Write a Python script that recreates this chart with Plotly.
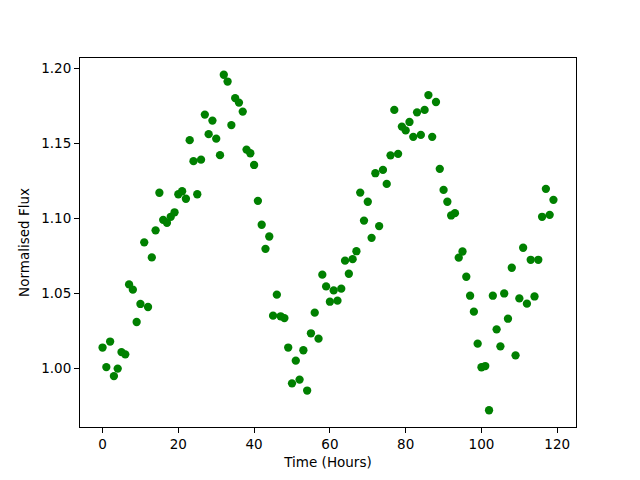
import plotly.graph_objects as go

time_hours = list(range(120))
flux = [
    1.014, 1.001, 1.018, 0.995, 1.000, 1.011, 1.0095, 1.056, 1.0525, 1.031,
    1.043, 1.084, 1.041, 1.074, 1.092, 1.117, 1.099, 1.097, 1.101, 1.104,
    1.116, 1.118, 1.113, 1.152, 1.138, 1.116, 1.139, 1.169, 1.156, 1.165,
    1.153, 1.142, 1.1955, 1.191, 1.162, 1.180, 1.177, 1.171, 1.1457, 1.1433,
    1.1355, 1.1116, 1.0957, 1.0797, 1.0879, 1.0352, 1.0492, 1.0348, 1.0336, 1.014,
    0.9902, 1.0053, 0.9927, 1.0122, 0.9854, 1.0235, 1.0372, 1.0199, 1.0625, 1.0547,
    1.0445, 1.052, 1.0452, 1.0532, 1.0718, 1.0631, 1.0728, 1.0781, 1.1171, 1.0985,
    1.111, 1.087, 1.130, 1.0948, 1.1322, 1.1229, 1.1419, 1.1721, 1.1429, 1.161,
    1.1585, 1.1641, 1.1542, 1.1705, 1.1555, 1.1721, 1.182, 1.1542, 1.1774, 1.1329,
    1.1189, 1.111, 1.1019, 1.1034, 1.0738, 1.0779, 1.0611, 1.0485, 1.0379, 1.0166,
    1.0009, 1.0017, 0.9723, 1.0485, 1.0261, 1.0148, 1.050, 1.0332, 1.0671, 1.0088,
    1.0467, 1.0804, 1.0432, 1.0724, 1.048, 1.0724, 1.101, 1.1196, 1.1023, 1.1123,
]

x_ticks = [0, 20, 40, 60, 80, 100, 120]
y_ticks = [1.00, 1.05, 1.10, 1.15, 1.20]

fig = go.Figure(go.Scatter(
    x=time_hours, y=flux, mode="markers",
    marker=dict(color="#008000", size=8.3, line=dict(width=0)),
    showlegend=False,
))

xspan = max(time_hours) - min(time_hours)
yspan = max(flux) - min(flux)

axis_common = dict(
    showline=True, mirror=True, linecolor="black", linewidth=1.1,
    ticks="outside", ticklen=5, tickwidth=1.1, tickcolor="black",
    showgrid=False, zeroline=False,
    tickfont=dict(family="DejaVu Sans", size=13.5, color="black"),
)

fig.update_xaxes(
    range=[min(time_hours) - 0.05 * xspan, max(time_hours) + 0.05 * xspan],
    tickvals=x_ticks, ticktext=[str(v) for v in x_ticks],
    title=dict(text="Time (Hours)", font=dict(family="DejaVu Sans", size=13.5, color="black"), standoff=6),
    **axis_common,
)
fig.update_yaxes(
    range=[min(flux) - 0.05 * yspan, max(flux) + 0.05 * yspan],
    tickvals=y_ticks, ticktext=[f"{v:.2f}" for v in y_ticks],
    title=dict(text="Normalised Flux", font=dict(family="DejaVu Sans", size=13.5, color="black"), standoff=8),
    **axis_common,
)

# The page body adds an 8px offset, so the figure is drawn 8px smaller
fig.update_layout(
    width=632, height=472,
    margin=dict(l=72, r=64, t=50, b=53, pad=0),
    paper_bgcolor="white", plot_bgcolor="white",
    font=dict(family="DejaVu Sans", color="black"),
)

fig.write_html("out.html")
